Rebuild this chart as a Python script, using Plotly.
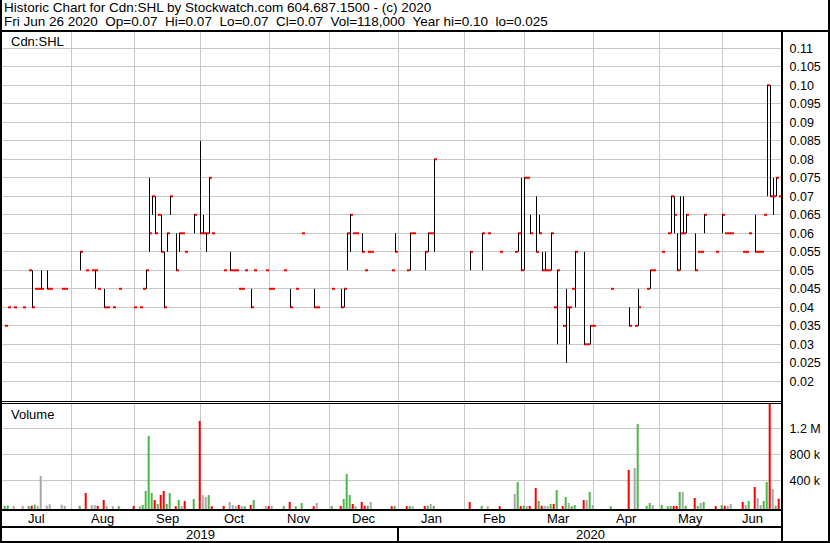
import pandas as pd
import plotly.graph_objects as go

# ---------------- data ----------------
dates = [
    "2019-07-02", "2019-07-03", "2019-07-05", "2019-07-10", "2019-07-12", "2019-07-15", "2019-07-16",
    "2019-07-17", "2019-07-18", "2019-07-22", "2019-07-23", "2019-07-29", "2019-07-30",
    "2019-08-06", "2019-08-08", "2019-08-12", "2019-08-13", "2019-08-14", "2019-08-16", "2019-08-19",
    "2019-08-21", "2019-08-23", "2019-08-30",
    "2019-09-03", "2019-09-04", "2019-09-05", "2019-09-06", "2019-09-09", "2019-09-10", "2019-09-11",
    "2019-09-12", "2019-09-13", "2019-09-16", "2019-09-17", "2019-09-19", "2019-09-20", "2019-09-23",
    "2019-09-24", "2019-09-27",
    "2019-10-01", "2019-10-02", "2019-10-03", "2019-10-04", "2019-10-07", "2019-10-11", "2019-10-15",
    "2019-10-16", "2019-10-17", "2019-10-18", "2019-10-21", "2019-10-22", "2019-10-24", "2019-10-25",
    "2019-10-31",
    "2019-11-01", "2019-11-04", "2019-11-08", "2019-11-12", "2019-11-14", "2019-11-18", "2019-11-22",
    "2019-11-25",
    "2019-12-02", "2019-12-05", "2019-12-06", "2019-12-09", "2019-12-10", "2019-12-11", "2019-12-12",
    "2019-12-16", "2019-12-17", "2019-12-18", "2019-12-19", "2019-12-30", "2019-12-31",
    "2020-01-06", "2020-01-07", "2020-01-08", "2020-01-14", "2020-01-15", "2020-01-16", "2020-01-17",
    "2020-02-04", "2020-02-10", "2020-02-12", "2020-02-18", "2020-02-25", "2020-02-26", "2020-02-27",
    "2020-02-28",
    "2020-03-02", "2020-03-03", "2020-03-05", "2020-03-06", "2020-03-09", "2020-03-10", "2020-03-11",
    "2020-03-12", "2020-03-13", "2020-03-16", "2020-03-18", "2020-03-19", "2020-03-20", "2020-03-23",
    "2020-03-24", "2020-03-27", "2020-03-30", "2020-03-31",
    "2020-04-01", "2020-04-09", "2020-04-17", "2020-04-21", "2020-04-22", "2020-04-27", "2020-04-28",
    "2020-04-29",
    "2020-05-04", "2020-05-06", "2020-05-07", "2020-05-08", "2020-05-11", "2020-05-12", "2020-05-13",
    "2020-05-14", "2020-05-19", "2020-05-20", "2020-05-21", "2020-05-22", "2020-05-28",
    "2020-06-01", "2020-06-02", "2020-06-03", "2020-06-04", "2020-06-10", "2020-06-11", "2020-06-12",
    "2020-06-16", "2020-06-17", "2020-06-18", "2020-06-19", "2020-06-22", "2020-06-23", "2020-06-24",
    "2020-06-25", "2020-06-26",
]
high = [
    .035, .04, .04, .04, .05, .05, .045, .045, .05, .05, .045, .045, .045,
    .055, .05, .05, .05, .045, .045, .04, .04, .045, .04,
    .04, .045, .05, .075, .07, .07, .065, .065, .055, .06, .07, .06, .06, .06, .055, .065,
    .085, .065, .06, .075, .06, .05, .055, .05, .05, .045, .045, .05, .045, .05, .05,
    .045, .045, .05, .045, .045, .06, .045, .04,
    .045, .045, .045, .06, .065, .06, .06, .06, .05, .055, .055, .05, .06,
    .05, .06, .06, .055, .06, .06, .08,
    .055, .06, .06, .055, .055, .06, .075, .075,
    .075, .065, .07, .065, .055, .055, .05, .06, .04, .05, .035, .045, .04, .045, .055, .055, .03, .035,
    .035, .045, .04, .035, .045, .045, .05, .05,
    .055, .06, .07, .07, .06, .07, .07, .065, .06, .055, .055, .065, .055,
    .065, .06, .06, .06, .055, .055, .06, .065, .055, .055, .065, .10, .10, .075, .075, .07,
]
low = [
    .035, .04, .04, .04, .05, .04, .045, .045, .045, .045, .045, .045, .045,
    .05, .05, .05, .045, .045, .04, .04, .04, .045, .04,
    .04, .045, .045, .055, .065, .06, .065, .055, .04, .055, .065, .05, .055, .06, .055, .06,
    .06, .06, .055, .06, .06, .05, .05, .05, .05, .045, .045, .05, .04, .05, .05,
    .045, .045, .05, .04, .045, .06, .04, .04,
    .045, .04, .04, .05, .055, .06, .06, .055, .05, .055, .055, .05, .055,
    .05, .05, .06, .05, .055, .06, .055,
    .05, .05, .06, .055, .055, .055, .05, .05,
    .075, .06, .055, .06, .05, .05, .05, .05, .04, .03, .035, .025, .03, .045, .04, .03, .03, .03,
    .035, .045, .035, .035, .035, .045, .045, .05,
    .055, .06, .06, .06, .05, .05, .06, .06, .05, .055, .055, .06, .055,
    .06, .06, .06, .06, .055, .055, .06, .055, .055, .055, .065, .07, .07, .065, .07, .07,
]
close = [
    .035, .04, .04, .04, .05, .04, .045, .045, .045, .045, .045, .045, .045,
    .055, .05, .05, .05, .045, .04, .04, .04, .045, .04,
    .04, .045, .05, .06, .07, .06, .065, .055, .04, .06, .07, .05, .06, .06, .055, .065,
    .06, .06, .06, .075, .06, .05, .05, .05, .05, .045, .045, .05, .04, .05, .05,
    .045, .045, .05, .04, .045, .06, .04, .04,
    .045, .04, .045, .06, .065, .06, .06, .055, .05, .055, .055, .05, .055,
    .05, .06, .06, .055, .06, .06, .08,
    .055, .06, .06, .055, .055, .06, .05, .075,
    .075, .06, .055, .06, .05, .05, .05, .06, .04, .05, .035, .04, .04, .045, .055, .03, .03, .035,
    .035, .045, .035, .035, .04, .045, .05, .05,
    .055, .06, .07, .065, .05, .06, .06, .065, .05, .055, .055, .065, .055,
    .065, .06, .06, .06, .055, .055, .06, .055, .055, .055, .065, .10, .07, .07, .075, .07,
]
volume = [
    8000, 12000, 5000, 8000, 5000, 10000, 25000, 5000, 465000, 10000, 30000, 25000, 8000,
    8000, 205000, 20000, 20000, 5000, 97000, 3000, 3000, 3000, 5000,
    5000, 20000, 236000, 1082000, 205000, 97000, 36000, 174000, 236000, 36000, 205000, 3000, 97000,
    5000, 82000, 113000,
    1313000, 174000, 144000, 174000, 3000, 5000, 66000, 20000, 3000, 20000, 5000, 3000, 20000, 97000,
    5000,
    5000, 5000, 3000, 67000, 3000, 51000, 3000, 51000,
    5000, 5000, 113000, 497000, 174000, 36000, 5000, 67000, 8000, 8000, 67000, 3000, 5000,
    3000, 5000, 3000, 5000, 8000, 36000, 5000,
    67000, 8000, 3000, 3000, 190000, 374000, 5000, 8000,
    5000, 5000, 282000, 82000, 8000, 8000, 5000, 36000, 36000, 251000, 5000, 144000, 51000, 3000,
    20000, 97000, 97000, 220000,
    20000, 3000, 559000, 590000, 1267000, 8000, 51000, 20000,
    20000, 3000, 5000, 5000, 5000, 220000, 220000, 8000, 128000, 5000, 51000, 67000, 3000,
    20000, 8000, 8000, 36000, 67000, 20000, 82000, 297000, 128000, 20000, 82000, 374000, 1700000,
    267000, 8000, 118000,
]
PREV_CLOSE = 0.03          # close before the first day shown

month_names = ["Jul", "Aug", "Sep", "Oct", "Nov", "Dec", "Jan", "Feb", "Mar", "Apr", "May", "Jun"]
year_names = ["2019", "2020"]
price_ticks = [0.02, 0.025, 0.03, 0.035, 0.04, 0.045, 0.05, 0.055, 0.06, 0.065, 0.07, 0.075,
               0.08, 0.085, 0.09, 0.095, 0.10, 0.105, 0.11]
price_tick_text = ["0.02", "0.025", "0.03", "0.035", "0.04", "0.045", "0.05", "0.055", "0.06",
                   "0.065", "0.07", "0.075", "0.08", "0.085", "0.09", "0.095", "0.10", "0.105", "0.11"]
vol_ticks = [400000, 800000, 1200000]
vol_tick_text = ["400 k", "800 k", "1.2 M"]

title1 = "Historic Chart for Cdn:SHL by Stockwatch.com 604.687.1500 - (c) 2020"
title2 = "Fri Jun 26 2020  Op=0.07  Hi=0.07  Lo=0.07  Cl=0.07  Vol=118,000  Year hi=0.10  lo=0.025"

# ---------------- scales ----------------
W, H = 830, 543
ML, MR, MT, MB = 2, 48, 31, 34
PW, PH = W - ML - MR, H - MT - MB
def xp(px): return (px - ML) / PW
def yp(py): return (H - MB - py) / PH

days = pd.bdate_range("2019-07-01", "2020-06-26")
xi = list(days.get_indexer(pd.to_datetime(dates)))
XR = [-0.5, len(days) - 0.5]

PRICE_RANGE = [0.014676, 0.114676]
PRICE_PER_PX = (PRICE_RANGE[1] - PRICE_RANGE[0]) / 370
VOL_RANGE = [-41500, 1589000]
VOL_FLOOR = VOL_RANGE[0]

month_starts = pd.date_range("2019-08-01", "2020-06-01", freq="MS")
bounds = [int(b) - 0.5 for b in days.searchsorted(month_starts, side="right") - 1]
edges = [XR[0]] + bounds + [XR[1]]
month_centers = [(a + b) / 2 for a, b in zip(edges[:-1], edges[1:])]
jan_b = bounds[month_starts.get_loc(pd.Timestamp("2020-01-01"))]
year_centers = [(XR[0] + jan_b) / 2, (jan_b + XR[1]) / 2]

RED, GREEN, GRAY = "#ff0000", "#4cb84c", "#a8a8a8"
prev = [PREV_CLOSE] + close[:-1]
vcolors = [GREEN if c > p else (RED if c < p else GRAY) for c, p in zip(close, prev)]

STEM = -1 / 3
sx, sy = [], []
for x, h, l in zip(xi, high, low):
    if h > l:
        sx += [x + STEM, x + STEM, None]
        sy += [l, h, None]

DASH = 2 * PRICE_PER_PX   # close tick: 2 px tall, one day wide

fig = go.Figure()
fig.add_trace(go.Scatter(x=sx, y=sy, mode="lines", line=dict(color="black", width=1),
                         hoverinfo="skip", xaxis="x", yaxis="y"))
fig.add_trace(go.Bar(x=xi, y=[DASH] * len(close), base=[c - DASH / 2 for c in close], width=1,
                     marker=dict(color=RED, line=dict(width=0)), xaxis="x", yaxis="y"))
fig.add_trace(go.Bar(x=[x - 0.6 for x in xi], y=[v - VOL_FLOOR for v in volume], base=VOL_FLOOR,
                     width=0.67, marker=dict(color=vcolors, line=dict(width=0)),
                     xaxis="x2", yaxis="y2"))

FONT = dict(family="Liberation Sans, Arial, sans-serif", size=13, color="black")
TFONT = dict(FONT, size=13.5)
TICKFONT = dict(FONT, size=12.5)
GRID = "#c8c8c8"
xcommon = dict(range=XR, showticklabels=False, ticks="", showgrid=False, zeroline=False,
               showline=False, tickvals=month_centers,
               minor=dict(tickmode="array", tickvals=bounds, showgrid=True, gridcolor=GRID,
                          gridwidth=1, ticks=""))
fig.update_layout(
    width=W, height=H, margin=dict(l=ML, r=MR, t=MT, b=MB),
    paper_bgcolor="white", plot_bgcolor="white", showlegend=False, font=FONT,
    barmode="overlay",
    xaxis=dict(domain=[0, 1], anchor="y", **xcommon),
    xaxis2=dict(domain=[0, 1], anchor="y2", matches="x", **xcommon),
    yaxis=dict(domain=[yp(401), 1], range=PRICE_RANGE, side="right", tickvals=price_ticks,
               ticktext=price_tick_text, showgrid=True, gridcolor=GRID, zeroline=False,
               ticks="outside", ticklen=4, tickcolor="rgba(0,0,0,0)", tickfont=TICKFONT,
               anchor="x"),
    yaxis2=dict(domain=[0, yp(403)], range=VOL_RANGE, side="right", tickvals=vol_ticks,
                ticktext=vol_tick_text, showgrid=True, gridcolor=GRID, zeroline=False,
                ticks="outside", ticklen=4, tickcolor="rgba(0,0,0,0)", tickfont=TICKFONT,
                anchor="x2"),
)

shapes = []
def pline(x0, y0, x1, y1, w=2):
    shapes.append(dict(type="line", xref="paper", yref="paper", x0=xp(x0), y0=yp(y0),
                       x1=xp(x1), y1=yp(y1), line=dict(color="black", width=w)))
pline(0, 31, W, 31, 2)          # under the title
pline(0, 401.5, 782, 401.5, 1)  # price bottom
pline(0, 403.5, 782, 403.5, 1)  # volume top
pline(0, 510, 782, 510, 2)      # volume bottom
pline(0, 527, 782, 527, 2)      # month row bottom
pline(782, 31, 782, H, 2)       # right axis line
pline(1, 0, 1, H, 2)            # outer border
pline(W - 1, 0, W - 1, H, 2)
pline(0, H - 1, W, H - 1, 2)
shapes.append(dict(type="line", xref="x", yref="paper", x0=jan_b, x1=jan_b, y0=yp(527), y1=yp(H),
                   line=dict(color="black", width=2)))
fig.update_layout(shapes=shapes)

ann = []
def text(t, px, py, xanchor="left", xref="paper", font=FONT):
    ann.append(dict(text=t, x=(xp(px) if xref == "paper" else px), y=yp(py), xref=xref, yref="paper",
                    xanchor=xanchor, yanchor="middle", showarrow=False, font=font))
text(title1, 2, 7.5, font=TFONT)
text(title2.replace(" ", "\u00a0"), 2, 21, font=TFONT)
text("Cdn:SHL", 9, 42)
text("Volume", 9, 414)
for c, m in zip(month_centers, month_names):
    text(m, c, 518, "center", "x")
for c, y in zip(year_centers, year_names):
    text(y, c, 534.5, "center", "x")
fig.update_layout(annotations=ann)

fig.write_html("out.html", config={"displayModeBar": False},
               post_script="document.body.style.margin='0';document.body.style.padding='0';")
